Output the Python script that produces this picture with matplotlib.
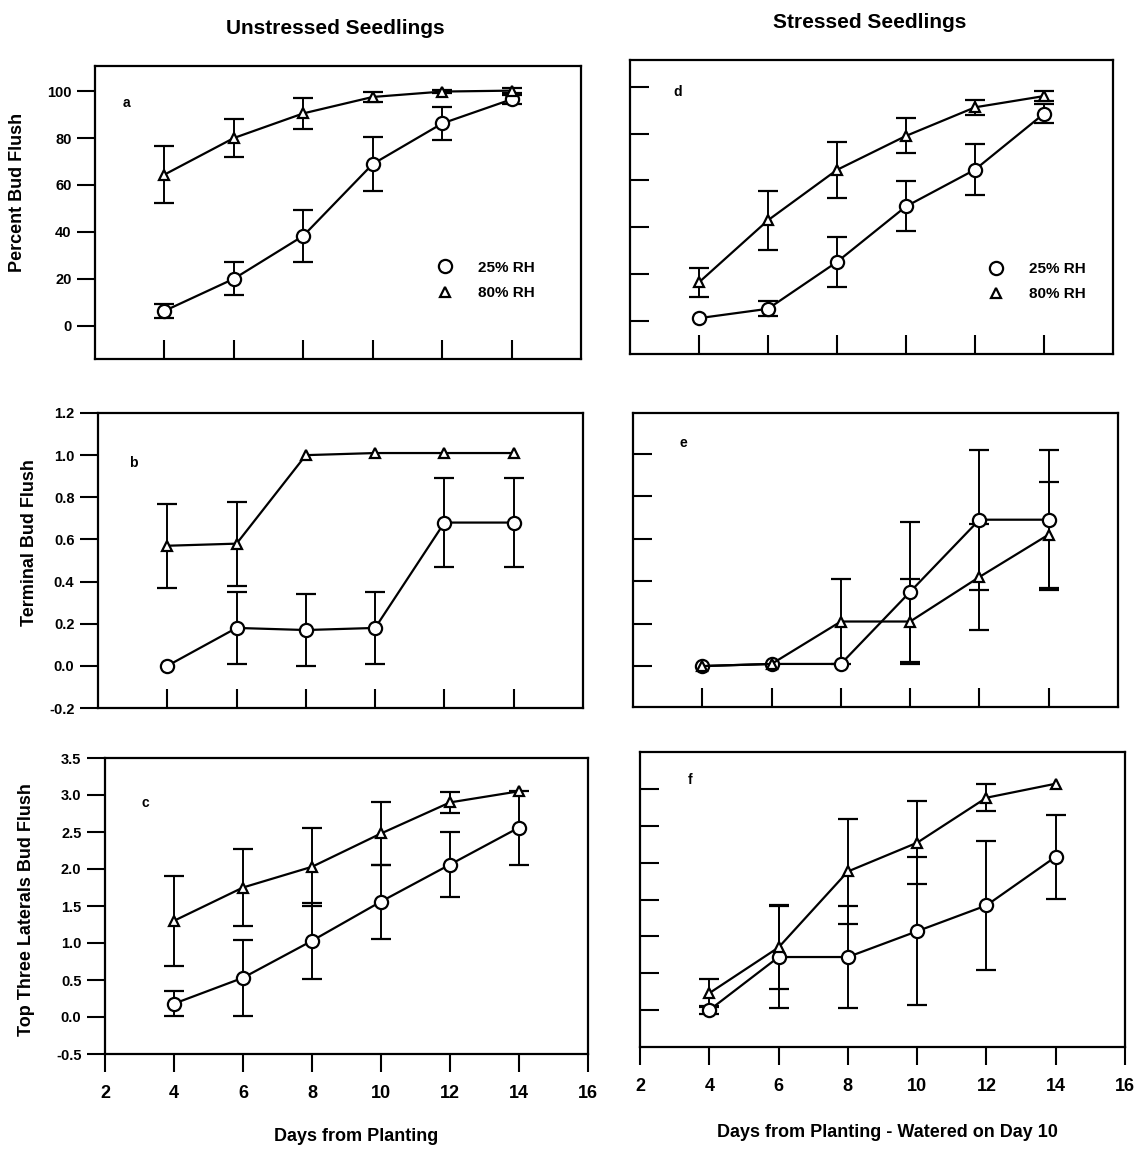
import numpy as np
import matplotlib
matplotlib.use("Agg")
import matplotlib.pyplot as plt
from matplotlib.lines import Line2D

plt.rcParams["font.family"] = ["Liberation Sans", "DejaVu Sans"]
plt.rcParams["font.weight"] = "bold"

days = [4, 6, 8, 10, 12, 14]
legend_labels = ["25% RH", "80% RH"]

# Panel a: Unstressed, Percent Bud Flush
a_rh25 = [6.3, 20.0, 38.3, 68.9, 86.2, 96.5]
a_rh25_err = [2.9, 7.0, 11.0, 11.4, 7.1, 2.0]
a_rh80 = [64.4, 80.0, 90.5, 97.5, 99.8, 100.2]
a_rh80_err = [12.2, 8.0, 6.5, 2.2, 0.8, 1.0]

# Panel b: Unstressed, Terminal Bud Flush
b_rh25 = [0.0, 0.18, 0.17, 0.18, 0.68, 0.68]
b_rh25_err = [0.0, 0.17, 0.17, 0.17, 0.21, 0.21]
b_rh80 = [0.57, 0.58, 1.0, 1.01, 1.01, 1.01]
b_rh80_err = [0.2, 0.2, 0.0, 0.0, 0.0, 0.0]

# Panel c: Unstressed, Top Three Laterals Bud Flush
c_rh25 = [0.18, 0.53, 1.03, 1.56, 2.06, 2.56]
c_rh25_err = [0.17, 0.51, 0.51, 0.5, 0.44, 0.5]
c_rh80 = [1.3, 1.75, 2.03, 2.48, 2.9, 3.05]
c_rh80_err = [0.61, 0.52, 0.53, 0.42, 0.14, 0.0]

# Panel d: Stressed, Percent Bud Flush
d_rh25 = [1.2, 5.2, 25.2, 48.9, 64.6, 88.5]
d_rh25_err = [0.0, 3.2, 10.6, 10.7, 10.9, 4.2]
d_rh80 = [16.5, 43.0, 64.5, 79.0, 91.2, 96.0]
d_rh80_err = [6.2, 12.6, 11.8, 7.5, 3.2, 2.0]

# Panel e: Stressed, Terminal Bud Flush
e_rh25 = [0.0, 0.01, 0.01, 0.35, 0.69, 0.69]
e_rh25_err = [0.0, 0.0, 0.0, 0.33, 0.33, 0.33]
e_rh80 = [0.0, 0.01, 0.21, 0.21, 0.42, 0.62]
e_rh80_err = [0.0, 0.0, 0.2, 0.2, 0.25, 0.25]

# Panel f: Stressed, Top Three Laterals Bud Flush
f_rh25 = [0.0, 0.72, 0.72, 1.07, 1.42, 2.08]
f_rh25_err = [0.05, 0.69, 0.69, 1.0, 0.87, 0.57]
f_rh80 = [0.23, 0.85, 1.88, 2.27, 2.88, 3.07]
f_rh80_err = [0.19, 0.57, 0.71, 0.56, 0.18, 0.0]

x_ticks_bottom = [2, 4, 6, 8, 10, 12, 14, 16]
a_yticks = [0, 20, 40, 60, 80, 100]
b_yticks = [-0.2, 0.0, 0.2, 0.4, 0.6, 0.8, 1.0, 1.2]
c_yticks = [-0.5, 0.0, 0.5, 1.0, 1.5, 2.0, 2.5, 3.0, 3.5]
d_yticks = [0, 20, 40, 60, 80, 100]
e_yticks = [0.0, 0.2, 0.4, 0.6, 0.8, 1.0]
f_yticks = [0.0, 0.5, 1.0, 1.5, 2.0, 2.5, 3.0]

W, H = 1144, 1152
fig = plt.figure(figsize=(W / 100, H / 100), dpi=100)


def px_axes(left, right, top, bottom):
    return fig.add_axes([left / W, (H - bottom) / H, (right - left) / W, (bottom - top) / H])


panels = {
    "a": dict(box=(95, 581, 66, 359), ylim=(-14.2, 110.7), yticks=a_yticks,
              s25=a_rh25, e25=a_rh25_err, s80=a_rh80, e80=a_rh80_err, col=0, row=0,
              letter=(0.064, 0.874), fmt="{:.0f}"),
    "b": dict(box=(98, 583, 413, 708), ylim=(-0.2, 1.2), yticks=b_yticks,
              s25=b_rh25, e25=b_rh25_err, s80=b_rh80, e80=b_rh80_err, col=0, row=1,
              letter=(0.072, 0.83), fmt="{:.1f}"),
    "c": dict(box=(105, 588, 758, 1054), ylim=(-0.5, 3.5), yticks=c_yticks,
              s25=c_rh25, e25=c_rh25_err, s80=c_rh80, e80=c_rh80_err, col=0, row=2,
              letter=(0.083, 0.848), fmt="{:.1f}"),
    "d": dict(box=(630, 1113, 60, 354), ylim=(-14.1, 111.4), yticks=d_yticks,
              s25=d_rh25, e25=d_rh25_err, s80=d_rh80, e80=d_rh80_err, col=1, row=0,
              letter=(0.099, 0.891), fmt="{:.0f}"),
    "e": dict(box=(633, 1118, 413, 707), ylim=(-0.193, 1.193), yticks=e_yticks,
              s25=e_rh25, e25=e_rh25_err, s80=e_rh80, e80=e_rh80_err, col=1, row=1,
              letter=(0.103, 0.898), fmt="{:.1f}"),
    "f": dict(box=(640, 1125, 752, 1047), ylim=(-0.5, 3.5), yticks=f_yticks,
              s25=f_rh25, e25=f_rh25_err, s80=f_rh80, e80=f_rh80_err, col=1, row=2,
              letter=(0.103, 0.905), fmt="{:.1f}"),
}

LW = 1.6
axes = {}
for key, p in panels.items():
    l, r, t, b = p["box"]
    ax = px_axes(l, r, t, b)
    axes[key] = ax
    ax.set_xlim(2, 16)
    ax.set_ylim(*p["ylim"])
    for sp in ax.spines.values():
        sp.set_linewidth(LW)
    x = np.array(days, dtype=float)
    for vals, errs, mk, ms in ((p["s25"], p["e25"], "o", 9.5), (p["s80"], p["e80"], "^", 7.5)):
        v = np.array(vals, dtype=float)
        e = np.array(errs, dtype=float)
        m = e > 0
        ax.errorbar(x[m], v[m], yerr=e[m], fmt="none", ecolor="black",
                    elinewidth=1.4, capsize=7, capthick=1.6, zorder=2)
        ax.plot(x, v, "-", color="black", lw=LW, marker=mk, ms=ms,
                mfc="white", mec="black", mew=1.6, zorder=3)
    ax.set_yticks(p["yticks"])
    if p["col"] == 0:
        ax.set_yticklabels([p["fmt"].format(t) for t in p["yticks"]], fontsize=10.5,
                           fontweight="bold")
        ax.tick_params(axis="y", direction="out", length=13, width=1.5, pad=4)
    else:
        ax.set_yticklabels([])
        ax.tick_params(axis="y", direction="in", length=14, width=1.5)
    if p["row"] < 2:
        ax.set_xticks(days)
        ax.set_xticklabels([])
        ax.tick_params(axis="x", direction="in", length=13.5, width=1.5)
    else:
        ax.set_xticks(x_ticks_bottom)
        ax.set_xticklabels([str(t) for t in x_ticks_bottom], fontsize=13,
                           fontweight="bold")
        ax.tick_params(axis="x", direction="out", length=13, width=1.5, pad=9)
    ax.text(p["letter"][0], p["letter"][1], key, transform=ax.transAxes,
            ha="center", va="center", fontsize=10, fontweight="bold")

# Legends
handles = [Line2D([], [], ls="none", marker="o", ms=9.5, mfc="white", mec="black", mew=1.6),
           Line2D([], [], ls="none", marker="^", ms=7.5, mfc="white", mec="black", mew=1.6)]
for key, anchor in (("a", (0.704, 0.336)), ("d", (0.741, 0.313))):
    axes[key].legend(handles, legend_labels, loc="upper left", bbox_to_anchor=anchor,
                     frameon=False, handlelength=1.0, handletextpad=1.7,
                     labelspacing=0.75, borderpad=0.0, borderaxespad=0.0,
                     prop={"weight": "bold", "size": 11})

# Axis labels
ylab_kw = dict(fontsize=13, fontweight="bold")
axes["a"].set_ylabel("Percent Bud Flush", **ylab_kw)
axes["a"].yaxis.set_label_coords((26 - 95) / 486, (359 - 192) / 293)
axes["b"].set_ylabel("Terminal Bud Flush", **ylab_kw)
axes["b"].yaxis.set_label_coords((38 - 98) / 485, (708 - 543) / 295)
axes["c"].set_ylabel("Top Three Laterals Bud Flush", **ylab_kw)
axes["c"].yaxis.set_label_coords((35 - 105) / 483, (1054 - 910) / 296)

axes["c"].set_xlabel("Days from Planting", fontsize=13, fontweight="bold")
axes["c"].xaxis.set_label_coords((356 - 105) / 483, -(1128 - 1054) / 296)
axes["f"].set_xlabel("Days from Planting - Watered on Day 10", fontsize=13, fontweight="bold")
axes["f"].xaxis.set_label_coords((887 - 640) / 485, -(1124 - 1047) / 295)

fig.text(335 / W, 1 - 28 / H, "Unstressed Seedlings", ha="center", va="center",
         fontsize=15, fontweight="bold")
fig.text(870 / W, 1 - 22 / H, "Stressed Seedlings", ha="center", va="center",
         fontsize=15, fontweight="bold")

fig.savefig("out.png", dpi=100, facecolor="white")
